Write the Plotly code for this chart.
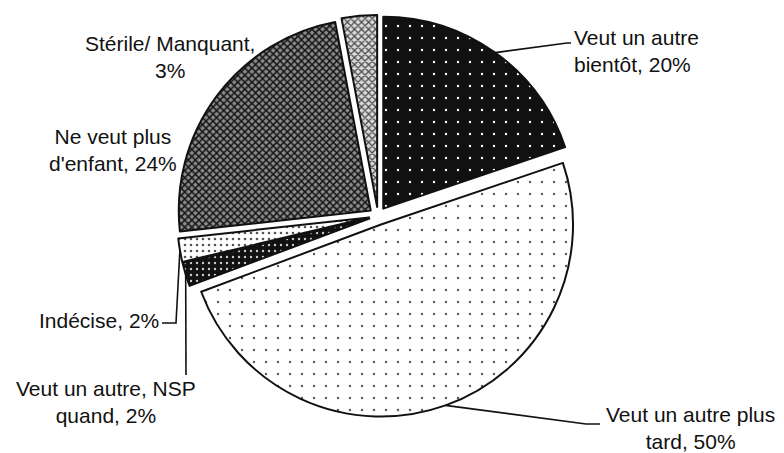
import math

import plotly.graph_objects as go

# data
labels = [
    "Veut un autre<br>bientôt",
    "Veut un autre plus<br>tard",
    "Veut un autre, NSP<br>quand",
    "Indécise",
    "Ne veut plus<br>d'enfant",
    "Stérile/ Manquant",
]
values = [20, 50, 2, 2, 24, 3]
label_texts = [
    "Veut un autre<br>bientôt, 20%",
    "Veut un autre plus<br>tard, 50%",
    "Veut un autre, NSP<br>quand, 2%",
    "Indécise, 2%",
    "Ne veut plus<br>d'enfant, 24%",
    "Stérile/ Manquant,<br>3%",
]

W, H = 784, 453
OFF = 8  # the page body margin shifts the figure by this much
CX, CY = 378 - OFF, 216 - OFF  # pie centre, px
R = 192  # pie radius, px
PULL = 0.047
FONT = "Liberation Sans, Arial, sans-serif"

box = R * (2 + 2 * PULL)
dom_x = [(CX - box / 2) / W, (CX + box / 2) / W]
dom_y = [1 - (CY + box / 2) / H, 1 - (CY - box / 2) / H]

patterns = [
    dict(shape=".", bgcolor="#111111", fgcolor="#ffffff", size=12, solidity=0.03),
    dict(shape=".", bgcolor="#ffffff", fgcolor="#555555", size=12, solidity=0.03),
    dict(shape=".", bgcolor="#111111", fgcolor="#cccccc", size=6, solidity=0.12),
    dict(shape=".", bgcolor="#ffffff", fgcolor="#555555", size=6, solidity=0.15),
    dict(shape="x", bgcolor="#8a8a8a", fgcolor="#151515", size=5, solidity=0.5),
    dict(shape="x", bgcolor="#dadada", fgcolor="#4a4a4a", size=5, solidity=0.45),
]

fig = go.Figure()
fig.add_trace(
    go.Pie(
        labels=labels,
        values=values,
        sort=False,
        direction="clockwise",
        rotation=0,
        pull=[PULL] * len(values),
        textinfo="none",
        hoverinfo="label+percent",
        domain=dict(x=dom_x, y=dom_y),
        marker=dict(
            colors=[p["bgcolor"] for p in patterns],
            line=dict(color="#111111", width=2),
            pattern=dict(
                shape=[p["shape"] for p in patterns],
                bgcolor=[p["bgcolor"] for p in patterns],
                fgcolor=[p["fgcolor"] for p in patterns],
                size=[p["size"] for p in patterns],
                solidity=[p["solidity"] for p in patterns],
                fillmode="replace",
            ),
        ),
        showlegend=False,
    )
)


def px(x, y):
    return (x - OFF) / W, 1 - (y - OFF) / H


def mid_arc(i):
    total = sum(values)
    start = sum(values[:i]) / total
    frac = values[i] / total
    theta = 2 * math.pi * (start + frac / 2)
    d = R * (1 + PULL)
    # returned in page px
    return CX + OFF + d * math.sin(theta), CY + OFF - d * math.cos(theta)


# leader lines: start at the slice's mid arc, then elbows (page px)
leaders = {
    0: [(567, 43), (571, 43)],
    1: [(586, 424), (600, 424)],
    2: [(186, 375)],
    3: [(176, 323), (162, 323)],
}
for i, pts in leaders.items():
    path_pts = [mid_arc(i)] + pts
    d = ""
    for k, (x, y) in enumerate(path_pts):
        u, v = px(x, y)
        d += ("M" if k == 0 else " L") + f" {u:.5f},{v:.5f}"
    fig.add_shape(
        type="path",
        path=d,
        xref="paper",
        yref="paper",
        line=dict(color="#111111", width=1.6),
    )

# text placement (centre in page px, anchor)
text_pos = [
    (572, 51, "left"),
    (690, 428, "center"),
    (106, 402, "center"),
    (161, 320, "right"),
    (113, 150, "center"),
    (170, 57, "center"),
]
for txt, (x, y, anchor) in zip(label_texts, text_pos):
    u, v = px(x, y)
    fig.add_annotation(
        x=u,
        y=v,
        xref="paper",
        yref="paper",
        text=txt,
        showarrow=False,
        xanchor=anchor,
        yanchor="middle",
        align=anchor,
        font=dict(family=FONT, size=21, color="#111111"),
    )

fig.update_layout(
    width=W,
    height=H,
    margin=dict(l=0, r=0, t=0, b=0),
    paper_bgcolor="white",
    plot_bgcolor="white",
)

fig.write_html("out.html")
